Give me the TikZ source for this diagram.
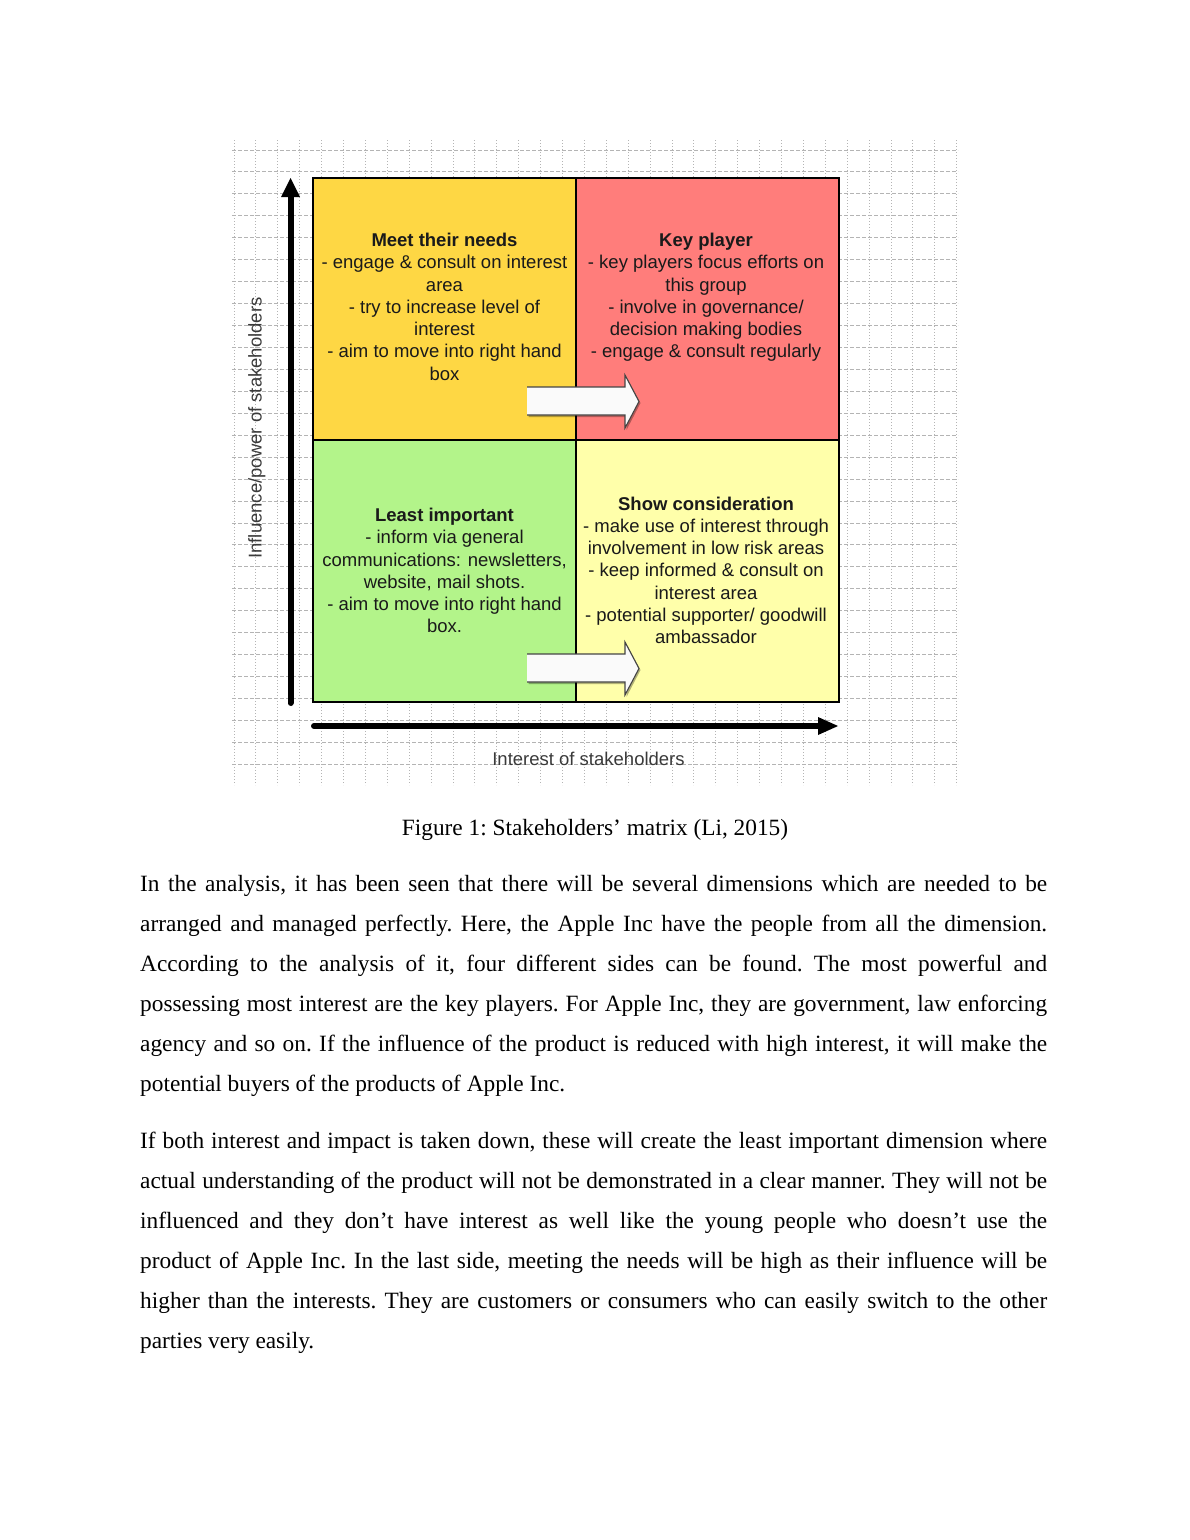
\documentclass[tikz,border=0pt]{standalone}
\usepackage{fontspec}
\setmainfont{Liberation Serif}[Ligatures=NoCommon]
\newfontfamily\figfont{Liberation Sans}[Ligatures=NoCommon]
\usetikzlibrary{arrows.meta}
\definecolor{qTL}{HTML}{FED744}
\definecolor{qTR}{HTML}{FF7D7B}
\definecolor{qBL}{HTML}{B3F48A}
\definecolor{qBR}{HTML}{FFFFAA}
\definecolor{gridc}{HTML}{B4B4B4}
\definecolor{qtext}{HTML}{1A1A1A}
\definecolor{axtext}{HTML}{3A3A3A}
\definecolor{arrline}{HTML}{454545}
\newcommand{\bodyfnt}{\fontsize{23.33}{28}\selectfont\frenchspacing}
\newcommand{\qfnt}{\figfont\fontsize{18.5}{22.25}\selectfont}
\begin{document}
\begin{tikzpicture}[x=1pt,y=-1pt,
  quad/.style={draw=black, line width=1.5pt, minimum width=263pt, minimum height=262pt, inner sep=0pt, outer sep=0pt, anchor=north west},
  qtxt/.style={inner sep=0pt, anchor=base, text=qtext, font=\qfnt},
  axlbl/.style={inner sep=0pt, anchor=base, text=axtext, font=\figfont\fontsize{18.5}{22}\selectfont},
  gridh/.style={draw=gridc, line width=0.9pt, dash pattern=on 4pt off 2pt},
  gridv/.style={draw=gridc, line width=0.9pt, dash pattern=on 1pt off 2pt},
  axisarrow/.style={line width=6pt, line cap=round, -{Triangle[width=19pt,length=19pt,line width=0pt]}},
  blockfill/.style={fill=white!98!black},
  blockshadow/.style={fill=black, opacity=0.3},
  blockline/.style={draw=arrline, line width=1.1pt, line join=miter},
  bodyline/.style={inner sep=0pt, anchor=base west, font=\bodyfnt},
  caption/.style={inner sep=0pt, anchor=base, font=\bodyfnt}]
\useasboundingbox (0,0) rectangle (1190,1540);
\fill[white] (0,0) rectangle (1190,1540);

% grid background of the figure
\fill[white] (232,140) rectangle (958,785);
\foreach \k in {0,...,33} \draw[gridv] ({234+21.9*\k},140) -- ({234+21.9*\k},785);
\foreach \k in {0,...,28} \draw[gridh] (232,{150+21.94*\k}) -- (958,{150+21.94*\k});

% quadrants
\node[quad, fill=qTL] (tl) at (313,178) {};
\node[quad, fill=qTR] (tr) at (576,178) {};
\node[quad, fill=qBL] (bl) at (313,440) {};
\node[quad, fill=qBR] (br) at (576,440) {};

% quadrant texts
\node[qtxt] (tltext) at (444.5,246.5) {\begin{tabular}[t]{@{}c@{}}\textbf{Meet their needs}\\- engage \& consult on interest\\area\\- try to increase level of\\interest\\- aim to move into right hand\\box\end{tabular}};
\node[qtxt] (trtext) at (706,246.5) {\begin{tabular}[t]{@{}c@{}}\textbf{Key player}\\- key players focus efforts on\\this group\\- involve in governance/\\decision making bodies\\- engage \& consult regularly\end{tabular}};
\node[qtxt] (bltext) at (444.5,521.5) {\begin{tabular}[t]{@{}c@{}}\textbf{Least important}\\- inform via general\\communications: newsletters,\\website, mail shots.\\- aim to move into right hand\\box.\end{tabular}};
\node[qtxt] (brtext) at (706,510) {\begin{tabular}[t]{@{}c@{}}\textbf{Show consideration}\\- make use of interest through\\involvement in low risk areas\\- keep informed \& consult on\\interest area\\- potential supporter/ goodwill\\ambassador\end{tabular}};

% block arrows
\foreach \dy in {0,267} {
  \begin{scope}[yshift={-\dy pt}]
    \fill[blockshadow] (528.5,389) -- (626.5,389) -- (626.5,377) -- (640.5,403) -- (626.5,430) -- (626.5,417) -- (528.5,417) -- cycle;
    \fill[blockfill] (527,387) -- (625,387) -- (625,375) -- (639,401.5) -- (625,428) -- (625,415) -- (527,415) -- cycle;
    \draw[blockline] (527,387) -- (625,387) -- (625,375) -- (639,401.5) -- (625,428) -- (625,415) -- (527,415);
  \end{scope}
}

% axes
\coordinate (ybot) at (290.5,703);
\coordinate (ytop) at (290.5,178);
\coordinate (xleft) at (314,726);
\coordinate (xright) at (838,726);
\draw[axisarrow] (ybot) -- (ytop);
\draw[line width=6pt, line cap=round, -{Triangle[width=18pt,length=20pt,line width=0pt]}] (xleft) -- (xright);

\node[axlbl] (xlabel) at (588.5,765.5) {Interest of stakeholders};
\node[axlbl, rotate=90] (ylabel) at (261.5,428) {Influence/power of stakeholders};

% caption
\node[caption] (cap) at (595,835) {Figure 1: Stakeholders’ matrix (Li, 2015)};

% paragraph 1
\node[bodyline] (pa1) at (140,891.5) {\makebox[907pt][s]{In the analysis, it has been seen that there will be several dimensions which are needed to be}};
\node[bodyline] (pa2) at (140,931.5) {\makebox[907pt][s]{arranged and managed perfectly. Here, the Apple Inc have the people from all the dimension.}};
\node[bodyline] (pa3) at (140,971.5) {\makebox[907pt][s]{According to the analysis of it, four different sides can be found. The most powerful and}};
\node[bodyline] (pa4) at (140,1011.5) {\makebox[907pt][s]{possessing most interest are the key players. For Apple Inc, they are government, law enforcing}};
\node[bodyline] (pa5) at (140,1051.5) {\makebox[907pt][s]{agency and so on. If the influence of the product is reduced with high interest, it will make the}};
\node[bodyline] (pa6) at (140,1091.5) {potential buyers of the products of Apple Inc.};

% paragraph 2
\node[bodyline] (pb1) at (140,1148) {\makebox[907pt][s]{If both interest and impact is taken down, these will create the least important dimension where}};
\node[bodyline] (pb2) at (140,1188) {\makebox[907pt][s]{actual understanding of the product will not be demonstrated in a clear manner. They will not be}};
\node[bodyline] (pb3) at (140,1228) {\makebox[907pt][s]{influenced and they don’t have interest as well like the young people who doesn’t use the}};
\node[bodyline] (pb4) at (140,1268) {\makebox[907pt][s]{product of Apple Inc. In the last side, meeting the needs will be high as their influence will be}};
\node[bodyline] (pb5) at (140,1308) {\makebox[907pt][s]{higher than the interests. They are customers or consumers who can easily switch to the other}};
\node[bodyline] (pb6) at (140,1348) {parties very easily.};
\end{tikzpicture}
\end{document}
